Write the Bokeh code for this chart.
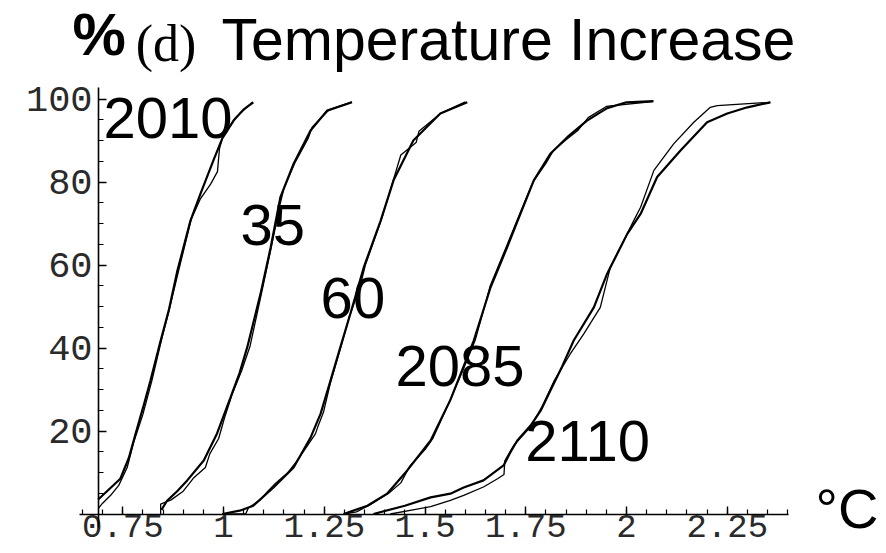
from bokeh.plotting import figure
from bokeh.models import Range1d, FixedTicker, Label
from bokeh.embed import file_html
from bokeh.resources import INLINE

# ---------------- data ----------------
series_names = ["2010", "35", "60", "2085", "2110"]

fit_x_2010 = [0.689, 0.744, 0.765, 0.782, 0.800, 0.819, 0.842, 0.864, 0.885, 0.918, 0.943, 0.975, 0.997, 1.025, 1.050, 1.074]
fit_y_2010 = [3.5, 8.5, 13.5, 19.4, 25.5, 32.2, 41.0, 49.0, 58.4, 70.7, 77.2, 85.2, 90.5, 94.8, 97.5, 99.2]
emp_x_2010 = [0.689, 0.700, 0.720, 0.740, 0.761, 0.777, 0.800, 0.822, 0.850, 0.866, 0.887, 0.920, 0.943, 0.968, 0.985, 0.990, 0.998, 1.030, 1.072]
emp_y_2010 = [1.3, 2.6, 4.5, 6.9, 11.2, 17.2, 24.0, 32.0, 43.5, 49.5, 58.0, 71.0, 76.0, 79.5, 82.5, 88.0, 90.8, 95.5, 99.3]

fit_x_2035 = [0.846, 0.860, 0.885, 0.910, 0.951, 0.984, 1.017, 1.040, 1.059, 1.092, 1.117, 1.141, 1.174, 1.216, 1.257, 1.319]
fit_y_2035 = [1.0, 3.2, 5.5, 8.1, 12.9, 19.4, 28.0, 34.0, 40.2, 53.1, 64.2, 76.3, 84.4, 92.4, 97.2, 99.2]
emp_x_2035 = [0.844, 0.844, 0.870, 0.900, 0.925, 0.955, 0.966, 0.988, 1.002, 1.022, 1.045, 1.066, 1.095, 1.118, 1.140, 1.150, 1.178, 1.210, 1.220, 1.262, 1.318]
emp_y_2035 = [0.0, 2.4, 3.4, 5.5, 8.6, 11.2, 14.5, 18.2, 23.0, 29.0, 34.5, 40.5, 53.5, 64.0, 74.5, 78.5, 84.8, 90.5, 93.2, 97.4, 99.3]

fit_x_2060 = [0.997, 1.040, 1.074, 1.124, 1.174, 1.216, 1.241, 1.262, 1.290, 1.315, 1.348, 1.390, 1.422, 1.471, 1.538, 1.605]
fit_y_2060 = [0.0, 0.8, 2.0, 6.4, 11.2, 18.4, 24.2, 31.0, 40.2, 48.3, 59.4, 70.7, 80.4, 90.0, 96.5, 99.2]
emp_x_2060 = [0.997, 1.055, 1.062, 1.090, 1.110, 1.130, 1.160, 1.180, 1.205, 1.228, 1.234, 1.248, 1.265, 1.292, 1.312, 1.338, 1.352, 1.392, 1.420, 1.440, 1.478, 1.485, 1.540, 1.600]
emp_y_2060 = [0.0, 0.0, 1.5, 3.3, 5.5, 7.5, 10.0, 12.5, 16.0, 19.3, 21.0, 24.5, 31.5, 40.5, 47.5, 54.5, 60.0, 71.0, 80.0, 86.5, 89.5, 92.2, 96.6, 99.3]

fit_x_2085 = [1.298, 1.357, 1.406, 1.456, 1.514, 1.563, 1.621, 1.663, 1.704, 1.737, 1.770, 1.811, 1.853, 1.902, 1.952, 2.000, 2.067]
fit_y_2085 = [0.0, 2.0, 4.9, 10.5, 17.7, 27.5, 41.8, 54.7, 64.3, 72.4, 80.4, 86.8, 90.8, 94.8, 97.8, 99.2, 99.5]
emp_x_2085 = [1.298, 1.330, 1.365, 1.410, 1.440, 1.462, 1.500, 1.520, 1.565, 1.600, 1.625, 1.662, 1.700, 1.738, 1.768, 1.800, 1.818, 1.850, 1.880, 1.905, 1.950, 2.065]
emp_y_2085 = [0.0, 0.5, 2.3, 5.0, 7.5, 11.5, 15.5, 18.3, 28.0, 36.0, 42.0, 55.0, 64.0, 73.0, 80.0, 84.5, 87.5, 90.2, 92.5, 95.5, 98.2, 99.4]

fit_x_2110 = [1.372, 1.450, 1.514, 1.563, 1.596, 1.645, 1.695, 1.712, 1.729, 1.762, 1.787, 1.810, 1.840, 1.869, 1.919, 1.952, 2.002, 2.035, 2.076, 2.134, 2.200, 2.250, 2.300, 2.357]
fit_y_2110 = [0.0, 2.0, 4.0, 4.9, 6.4, 8.1, 11.7, 14.9, 17.7, 21.3, 24.9, 29.5, 35.5, 41.8, 49.8, 57.9, 67.5, 72.3, 81.2, 87.6, 94.4, 96.5, 98.0, 99.2]
emp_x_2110 = [1.414, 1.470, 1.514, 1.563, 1.596, 1.645, 1.680, 1.696, 1.698, 1.720, 1.762, 1.790, 1.820, 1.860, 1.894, 1.935, 1.960, 2.018, 2.035, 2.068, 2.117, 2.167, 2.208, 2.225, 2.357]
emp_y_2110 = [0.0, 1.0, 1.8, 3.3, 4.5, 6.5, 8.5, 9.5, 12.8, 16.5, 21.0, 25.8, 32.0, 38.5, 43.4, 49.8, 59.5, 70.7, 73.9, 82.8, 89.2, 94.4, 98.0, 98.4, 99.2]

x_ticks = [0.75, 1.0, 1.25, 1.5, 1.75, 2.0, 2.25]
x_tick_labels = ["0.75", "1", "1.25", "1.5", "1.75", "2", "2.25"]
y_ticks = [20, 40, 60, 80, 100]
y_tick_labels = ["20", "40", "60", "80", "100"]

title_parts = ["%", "(d)", "Temperature Increase"]
unit_label = "\u00b0C"

# ---------------- figure ----------------
p = figure(width=886, height=553,
           x_range=Range1d(0.44665, 2.64516), y_range=Range1d(-9.518, 123.735),
           output_backend="svg", toolbar_location=None, min_border=0)
p.grid.visible = False
p.outline_line_color = None
p.background_fill_color = "white"
p.border_fill_color = "white"

x_minor = [round(0.65 + 0.05 * i, 2) for i in range(36)]
y_minor = [5 * i for i in range(21)]

xa = p.xaxis[0]
xa.fixed_location = 0
xa.bounds = (0.643, 2.402)
xa.ticker = FixedTicker(ticks=x_ticks, minor_ticks=x_minor)
xa.major_label_overrides = {t: s for t, s in zip(x_ticks, x_tick_labels)}
ya = p.yaxis[0]
ya.fixed_location = 0.69
ya.bounds = (-3.2, 102.8)
ya.ticker = FixedTicker(ticks=y_ticks, minor_ticks=y_minor)
ya.major_label_overrides = {t: s for t, s in zip(y_ticks, y_tick_labels)}

for ax in (xa, ya):
    ax.axis_line_color = "black"
    ax.axis_line_width = 1.6
    ax.major_tick_line_color = "black"
    ax.major_tick_line_width = 1.4
    ax.minor_tick_line_color = "black"
    ax.minor_tick_line_width = 1.2
    ax.major_tick_in = 8
    ax.major_tick_out = 0
    ax.minor_tick_in = 5
    ax.minor_tick_out = 0
    ax.major_label_text_font = "Liberation Mono"
    ax.major_label_text_color = "#2a2a2a"
xa.major_label_text_font_size = "34px"
ya.major_label_text_font_size = "37px"
xa.major_label_standoff = 1
ya.major_label_standoff = 6

fits = [(fit_x_2010, fit_y_2010), (fit_x_2035, fit_y_2035), (fit_x_2060, fit_y_2060),
        (fit_x_2085, fit_y_2085), (fit_x_2110, fit_y_2110)]
emps = [(emp_x_2010, emp_y_2010), (emp_x_2035, emp_y_2035), (emp_x_2060, emp_y_2060),
        (emp_x_2085, emp_y_2085), (emp_x_2110, emp_y_2110)]
for xs, ys in fits:
    p.line(xs, ys, line_color="black", line_width=2.2)
for xs, ys in emps:
    p.line(xs, ys, line_color="black", line_width=1.3)

# curve labels
label_pos = [(0.702, 95.45), (1.042, 69.66), (1.241, 52.07), (1.427, 35.69), (1.749, 17.61)]
for name, (lx, ly) in zip(series_names, label_pos):
    p.add_layout(Label(x=lx, y=ly, text=name, text_font="Liberation Sans",
                       text_font_size="58px", text_color="black",
                       text_align="left", text_baseline="alphabetic"))

# title and unit
p.add_layout(Label(x=0.625, y=115.64, text=title_parts[0], text_font="Liberation Sans",
                   text_font_style="bold", text_font_size="60px", text_color="black",
                   text_align="left", text_baseline="alphabetic"))
p.add_layout(Label(x=0.782, y=113.45, text=title_parts[1], text_font="Liberation Serif",
                   text_font_size="52px", text_color="black",
                   text_align="left", text_baseline="alphabetic"))
p.add_layout(Label(x=0.995, y=114.1, text=title_parts[2], text_font="Liberation Sans",
                   text_font_size="59px", text_color="black",
                   text_align="left", text_baseline="alphabetic"))
p.add_layout(Label(x=2.469, y=1.28, text=unit_label, text_font="Liberation Sans",
                   text_font_size="56px", text_color="black",
                   text_align="left", text_baseline="alphabetic"))

open("out.html", "w").write(file_html(p, INLINE))
